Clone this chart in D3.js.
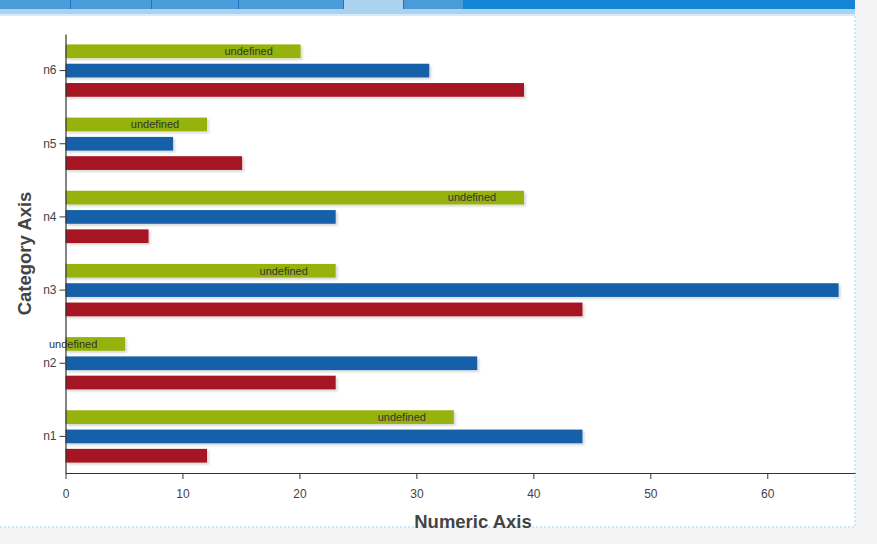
<!DOCTYPE html>
<html>
<head>
<meta charset="utf-8">
<script src="https://cdn.jsdelivr.net/npm/d3@7"></script>
<style>
  body { margin: 0; background: #f4f4f4; font-family: "Liberation Sans", Arial, sans-serif; }
  svg { display: block; }
</style>
</head>
<body>
<svg id="chart" width="877" height="544"></svg>
<script>
// data
const categories = ["n1", "n2", "n3", "n4", "n5", "n6"];
const seriesNames = ["s1", "s2", "s3"]; // green, blue, red (top to bottom in each group)
const greenValues = [33.2, 5.1, 23.1, 39.2, 12.1, 20.1];
const blueValues  = [44.2, 35.2, 66.1, 23.1, 9.2, 31.1];
const redValues   = [12.1, 23.1, 44.2, 7.1, 15.1, 39.2];
const seriesColors = ["#95b20b", "#1261a9", "#a51322"];
const xTicks = [0, 10, 20, 30, 40, 50, 60];
const barLabel = "undefined";

// header tab strip
const tabEdges = [0, 70, 151, 238, 343, 403, 463, 855];
const tabColors = ["#4b9bd9", "#4b9bd9", "#4b9bd9", "#4b9bd9", "#abd2ee", "#4b9bd9", "#1484d6"];

const svg = d3.select("#chart");

// white panel with dotted border
svg.append("rect").attr("x", 0).attr("y", 0).attr("width", 855).attr("height", 527).attr("fill", "#fff");
svg.append("line").attr("x1", 855).attr("x2", 855).attr("y1", 16).attr("y2", 528)
  .attr("stroke", "#cde7fa").attr("stroke-width", 2).attr("stroke-dasharray", "2,2");
svg.append("line").attr("x1", 0).attr("x2", 856).attr("y1", 527).attr("y2", 527)
  .attr("stroke", "#cde7fa").attr("stroke-width", 2).attr("stroke-dasharray", "2,2");

// tabs
const tabs = svg.append("g");
tabs.selectAll("rect").data(tabColors).join("rect")
  .attr("x", (d, i) => tabEdges[i]).attr("y", 0)
  .attr("width", (d, i) => tabEdges[i + 1] - tabEdges[i]).attr("height", 9)
  .attr("fill", d => d);
tabs.selectAll("line").data(tabEdges.slice(1, -2)).join("line")
  .attr("x1", d => d + 0.5).attr("x2", d => d + 0.5).attr("y1", 0).attr("y2", 9)
  .attr("stroke", "#1a78c2").attr("stroke-width", 1);
svg.append("rect").attr("x", 0).attr("y", 9).attr("width", 855).attr("height", 5).attr("fill", "#abd2ee");
svg.append("rect").attr("x", 0).attr("y", 14).attr("width", 855).attr("height", 2).attr("fill", "#d5eafa");

// shadow filter
const defs = svg.append("defs");
const f = defs.append("filter").attr("id", "shadow").attr("x", "-5%").attr("y", "-30%").attr("width", "115%").attr("height", "180%");
f.append("feDropShadow").attr("dx", 2).attr("dy", 2).attr("stdDeviation", 1.2)
  .attr("flood-color", "#000").attr("flood-opacity", 0.15);

const margin = { left: 65.5, top: 34, right: 22, bottom: 71 };
const width = 855 - margin.left;
const height = 473 - margin.top;
const g = svg.append("g").attr("transform", `translate(${margin.left},${margin.top})`);

const x = d3.scaleLinear().domain([0, 67.5]).range([0, width]);
const y0 = d3.scaleBand().domain(categories).range([height, 0]);
const y1 = d3.scaleBand().domain(seriesNames).range([0, y0.bandwidth()])
  .paddingInner(0.29).paddingOuter(0.54);

const rows = categories.map((c, i) => ({
  cat: c,
  vals: [greenValues[i], blueValues[i], redValues[i]].map((v, j) => ({ s: seriesNames[j], v: v, color: seriesColors[j] }))
}));

const groups = g.selectAll("g.grp").data(rows).join("g")
  .attr("class", "grp")
  .attr("transform", d => `translate(0,${y0(d.cat)})`);

groups.selectAll("rect").data(d => d.vals).join("rect")
  .attr("x", 0)
  .attr("y", d => y1(d.s))
  .attr("width", d => x(d.v))
  .attr("height", y1.bandwidth())
  .attr("fill", d => d.color)
  .attr("filter", "url(#shadow)");

// axes
const xAxis = g.append("g").attr("transform", `translate(0,${height})`)
  .call(d3.axisBottom(x).tickValues(xTicks).tickSize(6).tickSizeOuter(0));
const yAxis = g.append("g")
  .call(d3.axisLeft(y0).tickSize(6).tickSizeOuter(0));

[xAxis, yAxis].forEach(a => {
  a.select(".domain").attr("stroke", "#333").attr("stroke-width", 1.2);
  a.selectAll(".tick line").attr("stroke", "#333");
  a.selectAll("text").attr("fill", "#444").attr("font-size", 12)
    .attr("font-family", "Liberation Sans, Arial, sans-serif");
});
xAxis.selectAll("text").attr("dy", "1.3em");

// labels on the green bars (drawn after axis so they sit on top)
g.selectAll("text.lbl").data(rows).join("text")
  .attr("class", "lbl")
  .attr("x", d => x(d.vals[0].v) - 52)
  .attr("y", d => y0(d.cat) + y1("s1") + y1.bandwidth() / 2)
  .attr("dy", "0.35em")
  .attr("text-anchor", "middle")
  .attr("font-size", 11)
  .attr("fill", "#333")
  .text(barLabel);

svg.append("text")
  .attr("x", 473).attr("y", 528)
  .attr("text-anchor", "middle")
  .attr("font-size", 18.5).attr("font-weight", "bold").attr("fill", "#444")
  .text("Numeric Axis");

svg.append("text")
  .attr("transform", `translate(31,${margin.top + height / 2}) rotate(-90)`)
  .attr("text-anchor", "middle")
  .attr("font-size", 18.5).attr("font-weight", "bold").attr("fill", "#444")
  .text("Category Axis");
</script>
</body>
</html>
